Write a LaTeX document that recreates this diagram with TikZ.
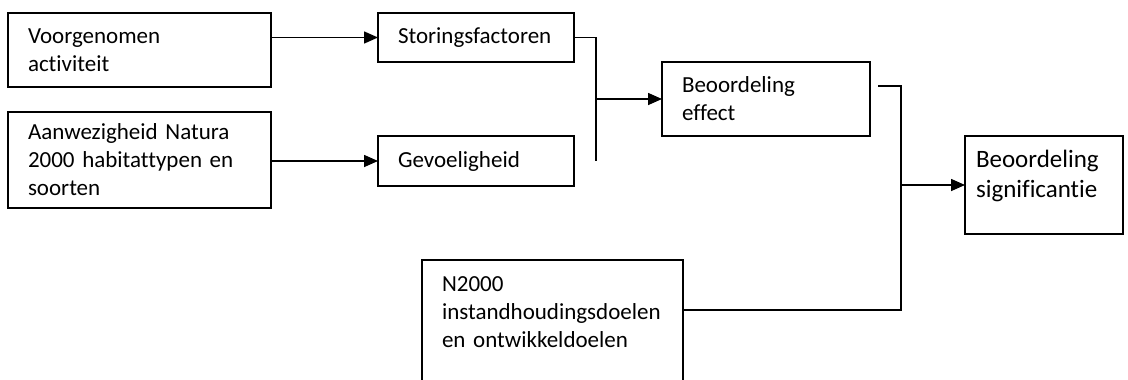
\documentclass[tikz,border=0pt]{standalone}
\usepackage{fontspec}
\setmainfont{Carlito}[RawFeature={-liga}, WordSpace=0.8]
\usetikzlibrary{arrows.meta}
\begin{document}
\begin{tikzpicture}[x=1pt,y=-1pt,
  box/.style={draw, line width=1.6pt, outer sep=0pt, anchor=north west,
    inner xsep=20pt, inner ysep=0pt, align=left,
    font=\fontsize{23}{28}\selectfont},
  conn/.style={line width=1.6pt},
  arr/.style={conn, -{Triangle[length=14pt,width=12pt]}}]
\clip (0,0) rectangle (1128,380);
\node[box, minimum width=263pt, minimum height=74pt, text width=223pt] (act) at (8,13) {Voorgenomen\\activiteit};
\node[box, minimum width=263pt, minimum height=96pt, text width=223pt] (hab) at (8,112) {Aanwezigheid Natura\\2000 habitattypen en\\soorten};
\node[box, minimum width=196pt, minimum height=49pt, text width=156pt] (stor) at (378,13) {Storingsfactoren};
\node[box, minimum width=196pt, minimum height=50pt, text width=156pt] (gev) at (378,136) {Gevoeligheid};
\node[box, minimum width=208pt, minimum height=74pt, text width=168pt] (eff) at (662,62) {Beoordeling\\effect};
\node[box, minimum width=158pt, minimum height=98pt, text width=136pt, inner xsep=11pt,
  font=\fontsize{25}{30}\selectfont, text height=19pt, text depth=55pt] (sig) at (965,136) {Beoordeling\\significantie};
\node[box, minimum width=261pt, text width=221pt, inner ysep=12pt] (n2k) at (422,260) {\strut N2000\\instandhoudingsdoelen\\en ontwikkeldoelen\\\strut};
\draw[arr] (stor.west -| act.east) -- (stor.west);
\draw[arr] (gev.west -| hab.east) -- (gev.west);
\coordinate (j1) at (596,37.5);
\draw[conn] (stor.east) -- (j1) -- (j1 |- gev.east);
\draw[arr] (j1 |- eff.west) -- (eff.west);
\coordinate (e0) at (878,86);
\coordinate (j2) at (901,86);
\coordinate (j3) at (901,310);
\draw[conn] (e0) -- (j2) -- (j3) -- (j3 -| n2k.east);
\draw[arr] (j2 |- sig.west) -- (sig.west);
\end{tikzpicture}
\end{document}
